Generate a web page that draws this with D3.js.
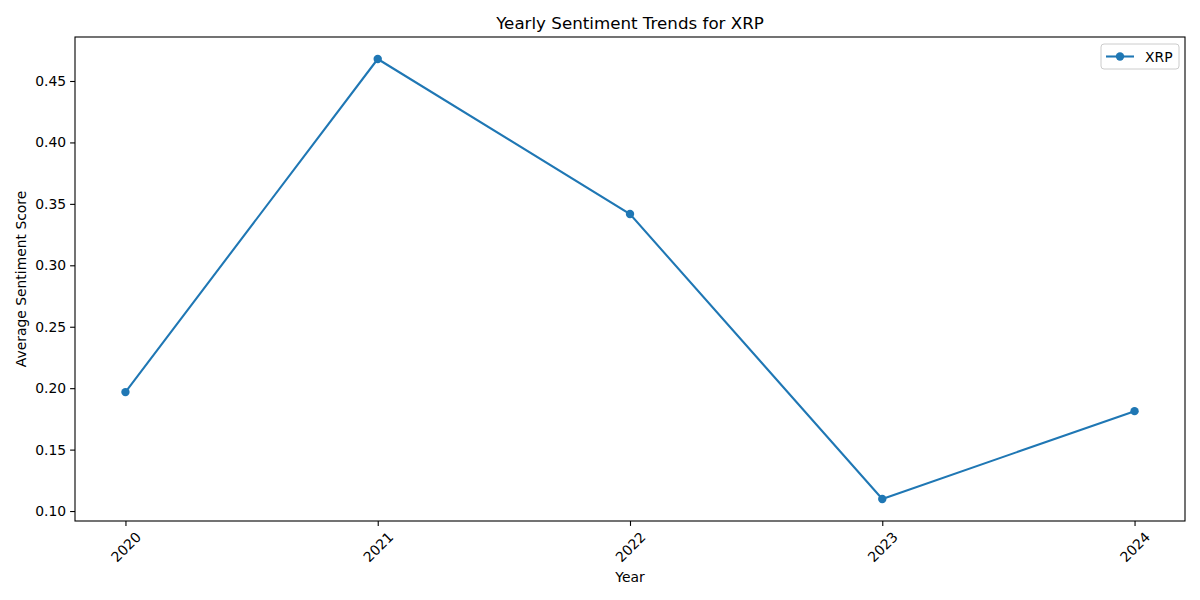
<!DOCTYPE html>
<html>
<head>
<meta charset="utf-8">
<script src="https://cdn.jsdelivr.net/npm/d3@7"></script>
<style>
  body { margin: 0; background: #fff; }
  text { font-family: "DejaVu Sans", sans-serif; fill: #000; }
</style>
</head>
<body>
<div id="chart"></div>
<script>
const years = [2020, 2021, 2022, 2023, 2024];
const sentiment = [0.1968, 0.4679, 0.3417, 0.1098, 0.1813];
const yTicks = [0.10, 0.15, 0.20, 0.25, 0.30, 0.35, 0.40, 0.45];
const seriesName = "XRP";

const W = 1200, H = 600;
const margin = { top: 37, right: 15, bottom: 79, left: 75 },
  width = W - margin.left - margin.right,
  height = H - margin.top - margin.bottom;

const svg = d3.select("#chart")
  .append("svg")
  .attr("width", W)
  .attr("height", H);

const g = svg.append("g")
  .attr("transform", `translate(${margin.left},${margin.top})`);

// matplotlib-like 5% margins
const x = d3.scaleLinear()
  .domain([2019.8, 2024.2])
  .range([0, width]);

const ymin = d3.min(sentiment), ymax = d3.max(sentiment), pad = (ymax - ymin) * 0.05;
const y = d3.scaleLinear()
  .domain([ymin - pad, ymax + pad])
  .range([height, 0]);

// X axis
const xAxis = g.append("g")
  .attr("transform", `translate(0,${height})`)
  .call(d3.axisBottom(x).tickValues(years).tickFormat(d3.format("d")).tickSizeOuter(0).tickSize(4.9).tickPadding(3));
xAxis.select(".domain").remove();
xAxis.selectAll(".tick line").attr("stroke", "#000").attr("stroke-width", 1.1);
xAxis.selectAll(".tick text")
  .attr("font-size", "13.9px")
  .attr("text-anchor", "middle")
  .attr("dy", null)
  .attr("y", 0)
  .attr("transform", "translate(0,26) rotate(-45)")
  .attr("dominant-baseline", "central");

// Y axis
const yAxis = g.append("g")
  .call(d3.axisLeft(y).tickValues(yTicks).tickFormat(d3.format(".2f")).tickSizeOuter(0).tickSize(4.9).tickPadding(4));
yAxis.select(".domain").remove();
yAxis.selectAll(".tick line").attr("stroke", "#000").attr("stroke-width", 1.1);
yAxis.selectAll(".tick text").attr("font-size", "13.9px");

// frame
g.append("rect")
  .attr("width", width).attr("height", height)
  .attr("fill", "none").attr("stroke", "#000").attr("stroke-width", 1.1);

// line
const pts = years.map((yr, i) => ({ year: yr, value: sentiment[i] }));
g.append("path")
  .datum(pts)
  .attr("fill", "none")
  .attr("stroke", "#1f77b4")
  .attr("stroke-width", 2.08)
  .attr("d", d3.line().x(d => x(d.year)).y(d => y(d.value)));

g.selectAll(".dot")
  .data(pts)
  .join("circle")
  .attr("cx", d => x(d.year))
  .attr("cy", d => y(d.value))
  .attr("r", 4.2)
  .attr("fill", "#1f77b4");

// title and labels
svg.append("text")
  .attr("x", margin.left + width / 2).attr("y", 29)
  .attr("text-anchor", "middle").attr("font-size", "16.7px")
  .text("Yearly Sentiment Trends for XRP");

svg.append("text")
  .attr("x", margin.left + width / 2).attr("y", 582)
  .attr("text-anchor", "middle").attr("font-size", "13.9px")
  .text("Year");

svg.append("text")
  .attr("transform", `translate(26,${margin.top + height / 2}) rotate(-90)`)
  .attr("text-anchor", "middle").attr("font-size", "13.9px")
  .text("Average Sentiment Score");

// legend
const lg = g.append("g").attr("transform", `translate(${width - 84},7)`);
lg.append("rect")
  .attr("width", 78).attr("height", 25).attr("rx", 3)
  .attr("fill", "#fff").attr("fill-opacity", 0.8)
  .attr("stroke", "#ccc").attr("stroke-width", 1);
lg.append("line")
  .attr("x1", 5).attr("x2", 33).attr("y1", 12.5).attr("y2", 12.5)
  .attr("stroke", "#1f77b4").attr("stroke-width", 2.08);
lg.append("circle")
  .attr("cx", 19).attr("cy", 12.5).attr("r", 4.2).attr("fill", "#1f77b4");
lg.append("text")
  .attr("x", 44).attr("y", 17.5).attr("font-size", "13.9px")
  .text(seriesName);
</script>
</body>
</html>
